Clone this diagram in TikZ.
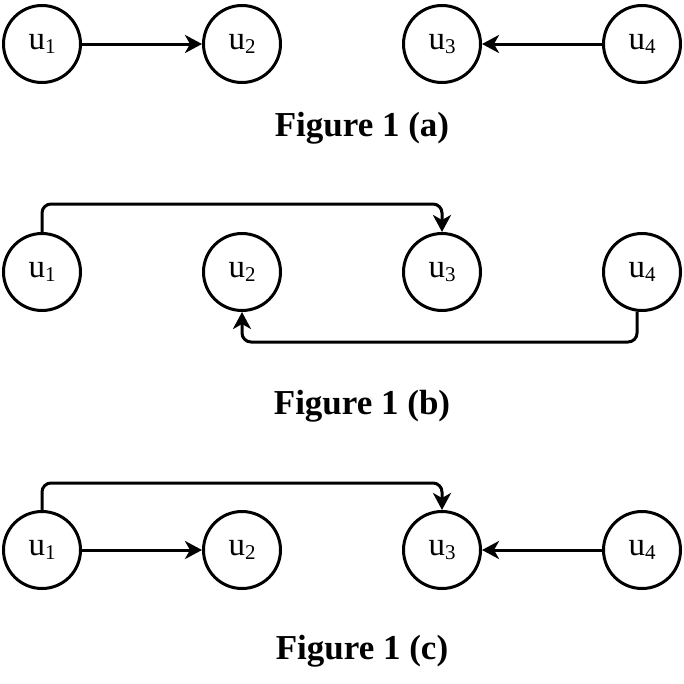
\documentclass[tikz,border=0pt]{standalone}
\usepackage{fontspec}
\setmainfont{Liberation Serif}
\usetikzlibrary{arrows.meta}
\newcommand{\unode}[1]{u\raisebox{-3.5pt}{\fontsize{21}{21}\selectfont #1}}
\begin{document}
\begin{tikzpicture}[x=1pt,y=-1pt,
  vnode/.style={circle,draw,line width=3pt,minimum size=77pt,inner sep=0pt,font=\fontsize{33}{36}\selectfont},
  conn/.style={line width=3pt,-{Stealth[length=17pt,width=18pt,inset=5pt]},rounded corners=9pt},
  caption/.style={font=\fontsize{35}{40}\selectfont\bfseries}]
\useasboundingbox (0,0) rectangle (684,683);
% Figure (a)
\node[vnode] (a1) at (42,44) {\unode{1}};
\node[vnode] (a2) at (242,44) {\unode{2}};
\node[vnode] (a3) at (442,44) {\unode{3}};
\node[vnode] (a4) at (642,44) {\unode{4}};
\draw[conn] (a1) -- (a2);
\draw[conn] (a4) -- (a3);
\node[caption] (ca) at (362,128) {Figure 1 (a)};
% Figure (b)
\node[vnode] (b1) at (42,272) {\unode{1}};
\node[vnode] (b2) at (242,272) {\unode{2}};
\node[vnode] (b3) at (442,272) {\unode{3}};
\node[vnode] (b4) at (642,272) {\unode{4}};
\coordinate (bt1) at (42,204);
\coordinate (bt2) at (442,204);
\coordinate (bb1) at (637,342);
\coordinate (bb2) at (242,342);
\draw[conn] (b1.north) -- (bt1) -- (bt2) -- (b3.north);
\draw[conn] (b4.-97.5) -- (bb1) -- (bb2) -- (b2.south);
\node[caption] (cb) at (362,406) {Figure 1 (b)};
% Figure (c)
\node[vnode] (c1) at (42,550) {\unode{1}};
\node[vnode] (c2) at (242,550) {\unode{2}};
\node[vnode] (c3) at (442,550) {\unode{3}};
\node[vnode] (c4) at (642,550) {\unode{4}};
\coordinate (ct1) at (42,483);
\coordinate (ct2) at (442,483);
\draw[conn] (c1) -- (c2);
\draw[conn] (c4) -- (c3);
\draw[conn] (c1.north) -- (ct1) -- (ct2) -- (c3.north);
\node[caption] (cc) at (362,651) {Figure 1 (c)};
\end{tikzpicture}
\end{document}
